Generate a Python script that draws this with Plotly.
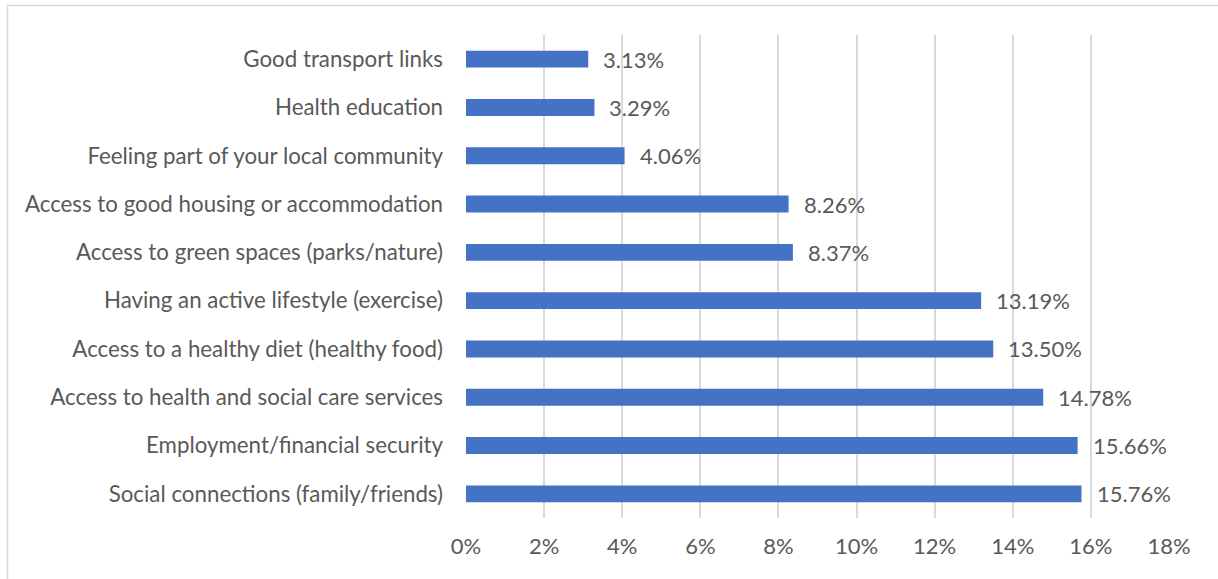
import plotly.graph_objects as go

# Survey factors, listed top to bottom as displayed
factors = [
    "Good transport links",
    "Health education",
    "Feeling part of your local community",
    "Access to good housing or accommodation",
    "Access to green spaces (parks/nature)",
    "Having an active lifestyle (exercise)",
    "Access to a healthy diet (healthy food)",
    "Access to health and social care services",
    "Employment/financial security",
    "Social connections (family/friends)",
]
shares = [3.13, 3.29, 4.06, 8.26, 8.37, 13.19, 13.50, 14.78, 15.66, 15.76]
tick_vals = [0, 2, 4, 6, 8, 10, 12, 14, 16, 18]
tick_text = [f"{v}%" for v in tick_vals]

W, H = 1218, 579
ML, MR, MT, MB = 466, 49, 35, 61
text_col = "#595959"
font_family = "Lato, 'Open Sans', sans-serif"
fs = 22

fig = go.Figure(
    go.Bar(
        x=shares,
        y=factors,
        orientation="h",
        marker=dict(color="#4472C4", line=dict(width=0)),
        hoverinfo="skip",
    )
)

# Value labels just past each bar end
for f, v in zip(factors, shares):
    fig.add_annotation(
        x=v, y=f, text=f"{v:.2f}%", showarrow=False,
        xanchor="left", xshift=13,
        font=dict(family=font_family, size=fs, color=text_col),
    )

pw = W - ML - MR
ph = H - MT - MB
# Light outer frame around the chart
fig.add_shape(
    type="rect", xref="paper", yref="paper",
    x0=(7.5 - ML) / pw, x1=(W + 20 - ML) / pw,
    y0=1 - (H + 20 - MT) / ph, y1=1 - (5.5 - MT) / ph,
    line=dict(color="#d9d9d9", width=1.5), fillcolor="rgba(0,0,0,0)",
    layer="below",
)

fig.update_layout(
    width=W, height=H,
    margin=dict(l=ML, r=MR, t=MT, b=MB),
    paper_bgcolor="white", plot_bgcolor="white",
    bargap=0.65,
    showlegend=False,
    font=dict(family=font_family, size=fs, color=text_col),
    xaxis=dict(
        range=[0, 18], tickvals=tick_vals, ticktext=tick_text,
        showgrid=True, gridcolor="#d9d9d9", gridwidth=1.5,
        zeroline=False, showline=False, ticks="",
        tickfont=dict(size=fs, color=text_col), ticklabelstandoff=13,
    ),
    yaxis=dict(
        autorange="reversed", showgrid=False, zeroline=False,
        showline=False, ticks="", ticklabelstandoff=22,
        tickfont=dict(size=22.3, color=text_col),
    ),
)

fig.write_html("out.html")
